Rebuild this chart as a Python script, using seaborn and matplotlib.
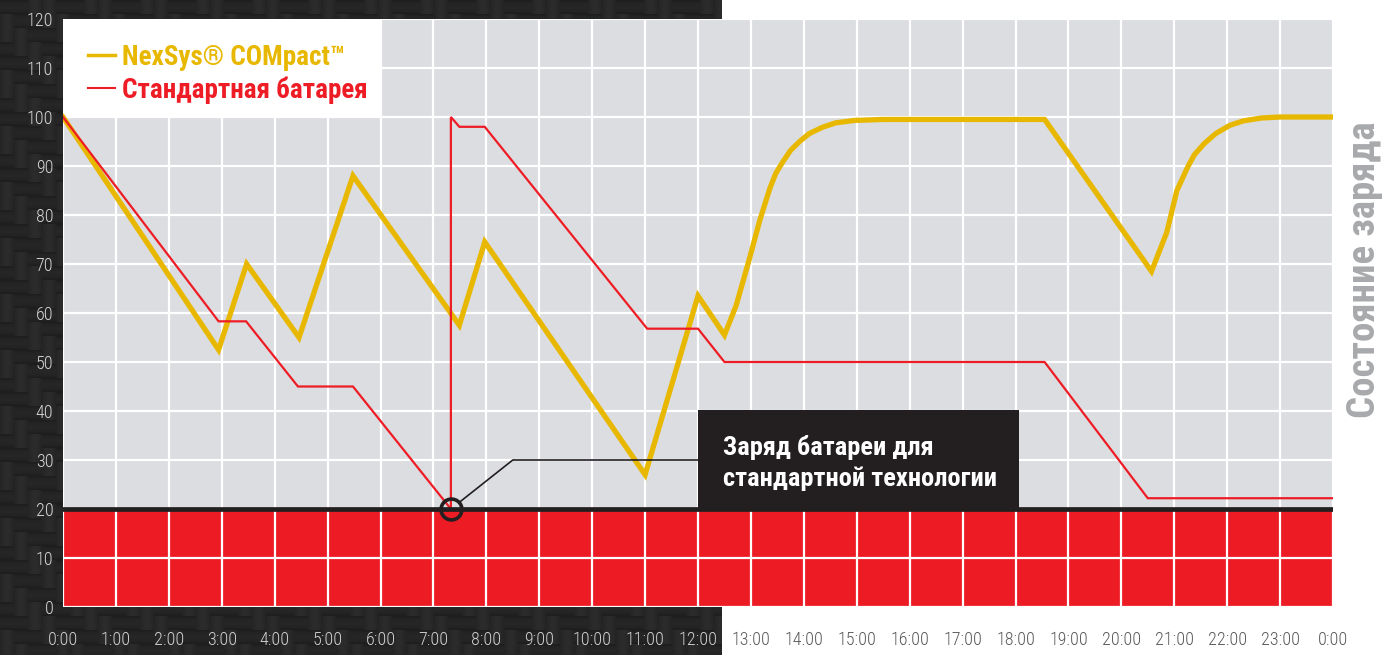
import numpy as np
import matplotlib
matplotlib.use("Agg")
import matplotlib.pyplot as plt
import seaborn as sns
from matplotlib.patches import Rectangle

# --- values (hours since 0:00 / state of charge, %) ---
nexsys_hours = [0, 2.94, 3.47, 4.46, 5.48, 7.49, 7.97, 11.0, 12.0, 12.5,
                12.72, 12.97, 13.17, 13.36, 13.47, 13.6, 13.75, 13.92, 14.1,
                14.35, 14.6, 14.95, 15.5,
                18.55, 20.57, 20.86, 21.05, 21.25, 21.38, 21.56, 21.78,
                22.05, 22.3, 22.65, 23.0, 24]
nexsys_soc = [100, 52.5, 70, 55, 88, 57.5, 74.5, 27, 63.5, 55.5,
              61.5, 71, 79, 85.5, 88.5, 90.8, 93.2, 95, 96.6,
              97.9, 98.8, 99.3, 99.5,
              99.5, 68.5, 76.5, 85, 89.7, 92.3, 94.5, 96.6,
              98.3, 99.2, 99.8, 100, 100]

standard_hours = [0, 2.94, 3.46, 4.44, 5.48, 7.33, 7.33, 7.49, 7.97,
                  11.04, 12.0, 12.5, 18.55, 20.5, 24]
standard_soc = [100, 58.3, 58.3, 45, 45, 20, 100, 98, 98,
                56.8, 56.8, 50, 50, 22.2, 22.2]

series_names = ["NexSys® COMpact™", "Стандартная батарея"]
hour_ticks = list(range(25))
hour_labels = [f"{h % 24}:00" for h in hour_ticks]
soc_ticks = list(range(0, 121, 10))
critical_level = 20
axis_title = "Состояние заряда"
callout_text = "Заряд батареи для\nстандартной технологии"

# --- colours / fonts ---
YELLOW = "#e8b800"
RED = "#ee1c25"
INK = "#231f20"
NARROW = ["Roboto Condensed", "Roboto", "DejaVu Sans"]
plt.rcParams["font.family"] = NARROW

W, H = 1385, 655
fig = plt.figure(figsize=(W / 100, H / 100), dpi=100, facecolor="white")

# carbon-fibre like backdrop on the left part of the figure
tw = 722
yy, xx = np.mgrid[0:H, 0:tw]
cell = 14
cx, cy = xx // cell, yy // cell
fx, fy = (xx % cell + 0.5) / cell, (yy % cell + 0.5) / cell
horiz = ((cx - cy) % 4) < 2
shade = np.where(horiz, np.sin(np.pi * fy), np.sin(np.pi * fx)) ** 0.4
tex = np.where(horiz, 0.1, 0.12) + 0.05 * shade
bg = fig.add_axes([0, 0, tw / W, 1])
bg.imshow(tex, cmap="gray", vmin=0, vmax=1, aspect="auto", interpolation="bilinear")
bg.axis("off")

# main plot
ax = fig.add_axes([63 / W, 48 / H, 1270 / W, 588 / H])
ax.set_facecolor("#dcdde0")
ax.set_axisbelow(True)
ax.grid(True, color="white", lw=1.6)
ax.axhspan(0, critical_level, color="#ed1c24", lw=0, zorder=0.3)

sns.lineplot(x=nexsys_hours, y=nexsys_soc, estimator=None, sort=False,
             color=YELLOW, lw=3.8, label=series_names[0], ax=ax,
             solid_joinstyle="miter", zorder=2)
sns.lineplot(x=standard_hours, y=standard_soc, estimator=None, sort=False,
             color=RED, lw=1.6, label=series_names[1], ax=ax,
             solid_joinstyle="miter", zorder=2.2)

ax.axhline(critical_level, color=INK, lw=3.4, zorder=3)

ax.set_xlim(0, 24)
ax.set_ylim(0, 120)
ax.set_xticks(hour_ticks, hour_labels)
ax.set_yticks(soc_ticks)
ax.set_xlabel("")
ax.set_ylabel("")
for s in ax.spines.values():
    s.set_visible(False)
ax.tick_params(axis="x", length=0, pad=17, labelsize=13)
ax.tick_params(axis="y", length=0, pad=7, labelsize=13, labelcolor="#d6d6d6")
for lab, h in zip(ax.get_xticklabels(), hour_ticks):
    lab.set_color("#d0d0d0" if h <= 12 else "#58595b")
    lab.set_fontweight("light")
for lab in ax.get_yticklabels():
    lab.set_fontweight("light")

# legend on a white panel
ax.add_patch(Rectangle((0, 100), 6.02, 20, facecolor="white", lw=0, zorder=1.5))
leg = ax.legend(loc="upper left", bbox_to_anchor=(0.0197, 0.958), frameon=False,
                prop=dict(family=NARROW, weight="bold", size=19.5),
                handlelength=1.0, handletextpad=0.27, labelspacing=0.2,
                borderpad=0, borderaxespad=0, labelcolor="linecolor")
leg.set_zorder(5)
leg.legend_handles[0].set_linewidth(2.5)
leg.legend_handles[1].set_linewidth(1.5)

# callout for the standard battery reaching critical charge
drop_x = standard_hours[5]
ax.plot([drop_x], [critical_level], "o", mfc="none", mec=INK, ms=15, mew=2.6, zorder=6)
ax.annotate("", xy=(drop_x, critical_level), xytext=(8.5, 30),
            arrowprops=dict(arrowstyle="-", color=INK, lw=1.2, shrinkA=0, shrinkB=8),
            zorder=6)
ax.hlines(30, 8.5, 12.0, color=INK, lw=1.2, zorder=6)
ax.add_patch(Rectangle((12.0, critical_level), 6.07, 20.2, facecolor=INK, lw=0, zorder=6))
ax.text(12.48, 29.4, callout_text, color="white", fontsize=19, weight="bold",
        ha="left", va="center", linespacing=1.3, zorder=7)

fig.text(1375 / W, (H - 270) / H, axis_title, rotation=90, rotation_mode="anchor",
         ha="center", va="baseline", fontsize=28, weight="bold", color="#a7a9ac")

fig.savefig("out.png", dpi=100)
